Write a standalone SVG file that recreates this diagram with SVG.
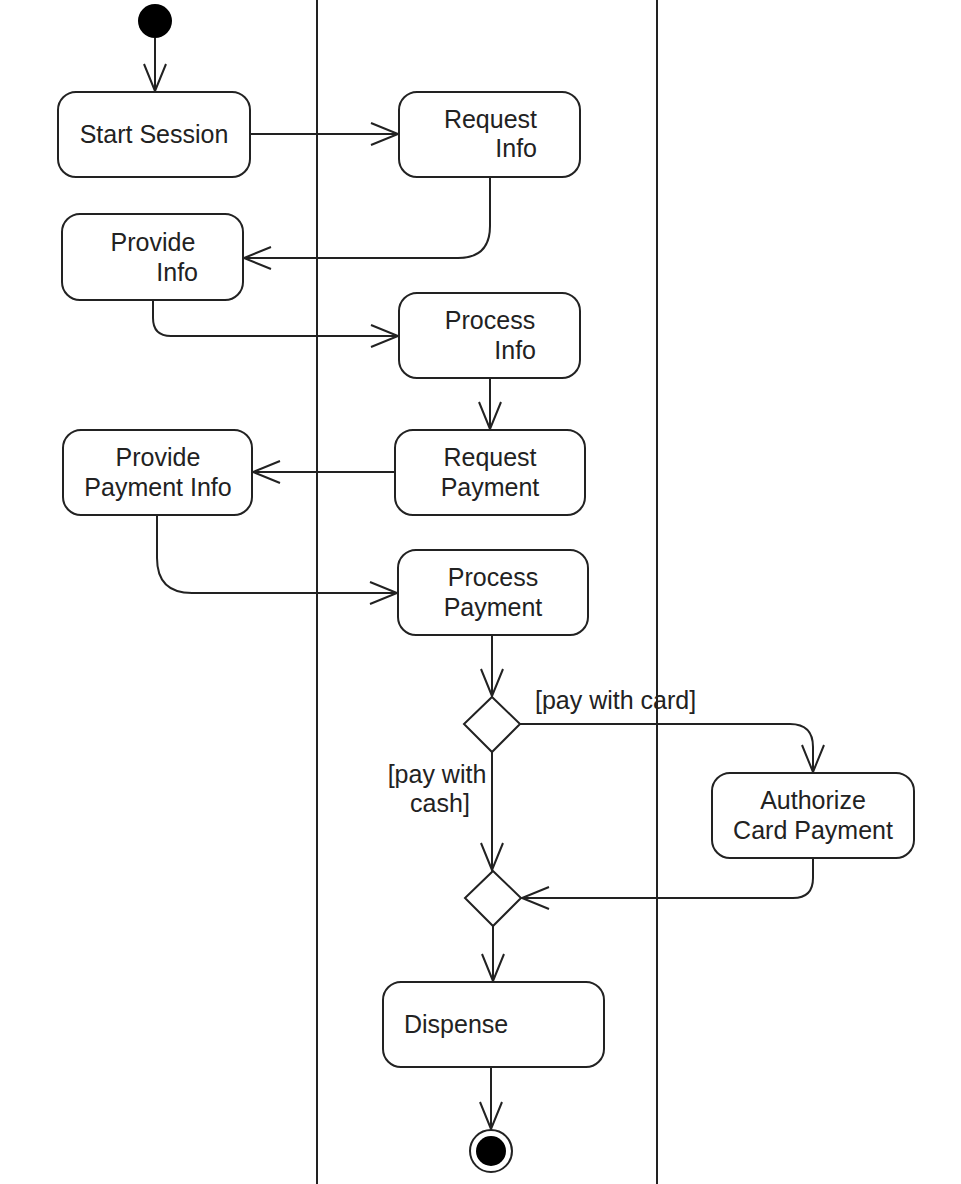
<svg xmlns="http://www.w3.org/2000/svg" width="961" height="1184" viewBox="0 0 961 1184">
<style>
.node rect{fill:#fff;stroke:#222;stroke-width:2}
.node polygon{fill:#fff;stroke:#222;stroke-width:2}
text{font-family:"Liberation Sans",Arial,sans-serif;font-size:25px;fill:#222}
.c{text-anchor:middle}
.r{text-anchor:end}
.conn path{fill:none;stroke:#222;stroke-width:2;marker-end:url(#arr)}
.lane{stroke:#222;stroke-width:2}
</style>
<defs>
<marker id="arr" markerUnits="userSpaceOnUse" markerWidth="40" markerHeight="40" refX="0" refY="0" viewBox="-30 -20 40 40" orient="auto" overflow="visible">
<path d="M-27,-11 L0,0 L-27,11" fill="none" stroke="#222" stroke-width="2"/>
</marker>
</defs>
<rect width="961" height="1184" fill="#fff"/>
<g id="lanes">
<line class="lane" x1="317" y1="0" x2="317" y2="1184"/>
<line class="lane" x1="657" y1="0" x2="657" y2="1184"/>
</g>
<g class="conn" id="connectors">
<path d="M155,38 V91"/>
<path d="M250,134 H398"/>
<path d="M490,177 V226 Q490,258 458,258 H244"/>
<path d="M153,300 V318 Q153,336 171,336 H398"/>
<path d="M490,378 V429"/>
<path d="M395,472 H253"/>
<path d="M157,515 V558 Q157,593 192,593 H397"/>
<path d="M492,635 V696"/>
<path d="M520,724 H790 Q813,724 813,747 V772"/>
<path d="M492,752 V870"/>
<path d="M813,858 V878 Q813,898 793,898 H522"/>
<path d="M493,926 V981"/>
<path d="M491,1067 V1129"/>
</g>
<g id="start" class="node"><circle cx="155" cy="21" r="17" fill="#000"/></g>
<g id="start-session" class="node"><rect x="58" y="92" width="192" height="85" rx="18"/><text class="c" x="154" y="143">Start Session</text></g>
<g id="request-info" class="node"><rect x="399" y="92" width="181" height="85" rx="18"/><text class="r" x="537" y="128">Request</text><text class="r" x="537" y="157">Info</text></g>
<g id="provide-info" class="node"><rect x="62" y="214" width="181" height="86" rx="18"/><text class="c" x="153" y="251">Provide</text><text class="r" x="198" y="281">Info</text></g>
<g id="process-info" class="node"><rect x="399" y="293" width="181" height="85" rx="18"/><text class="c" x="490" y="329">Process</text><text class="r" x="536" y="359">Info</text></g>
<g id="request-payment" class="node"><rect x="395" y="430" width="190" height="85" rx="18"/><text class="c" x="490" y="466">Request</text><text class="c" x="490" y="496">Payment</text></g>
<g id="provide-payment-info" class="node"><rect x="63" y="430" width="189" height="85" rx="18"/><text class="c" x="158" y="466">Provide</text><text class="c" x="158" y="496">Payment Info</text></g>
<g id="process-payment" class="node"><rect x="398" y="550" width="190" height="85" rx="18"/><text class="c" x="493" y="586">Process</text><text class="c" x="493" y="616">Payment</text></g>
<g id="decision" class="node"><polygon points="492,697 520,724 492,752 464,724"/></g>
<g id="authorize" class="node"><rect x="712" y="773" width="202" height="85" rx="18"/><text class="c" x="813" y="809">Authorize</text><text class="c" x="813" y="839">Card Payment</text></g>
<g id="merge" class="node"><polygon points="493,871 521,898 493,926 465,898"/></g>
<g id="dispense" class="node"><rect x="383" y="982" width="221" height="85" rx="18"/><text x="404" y="1033">Dispense</text></g>
<g id="end" class="node"><circle cx="491" cy="1151" r="21" fill="#fff" stroke="#222" stroke-width="2"/><circle cx="491" cy="1151" r="15" fill="#000"/></g>
<g id="labels">
<text x="535" y="709">[pay with card]</text>
<text class="c" x="437" y="783">[pay with</text>
<text class="c" x="440" y="812">cash]</text>
</g>
</svg>
